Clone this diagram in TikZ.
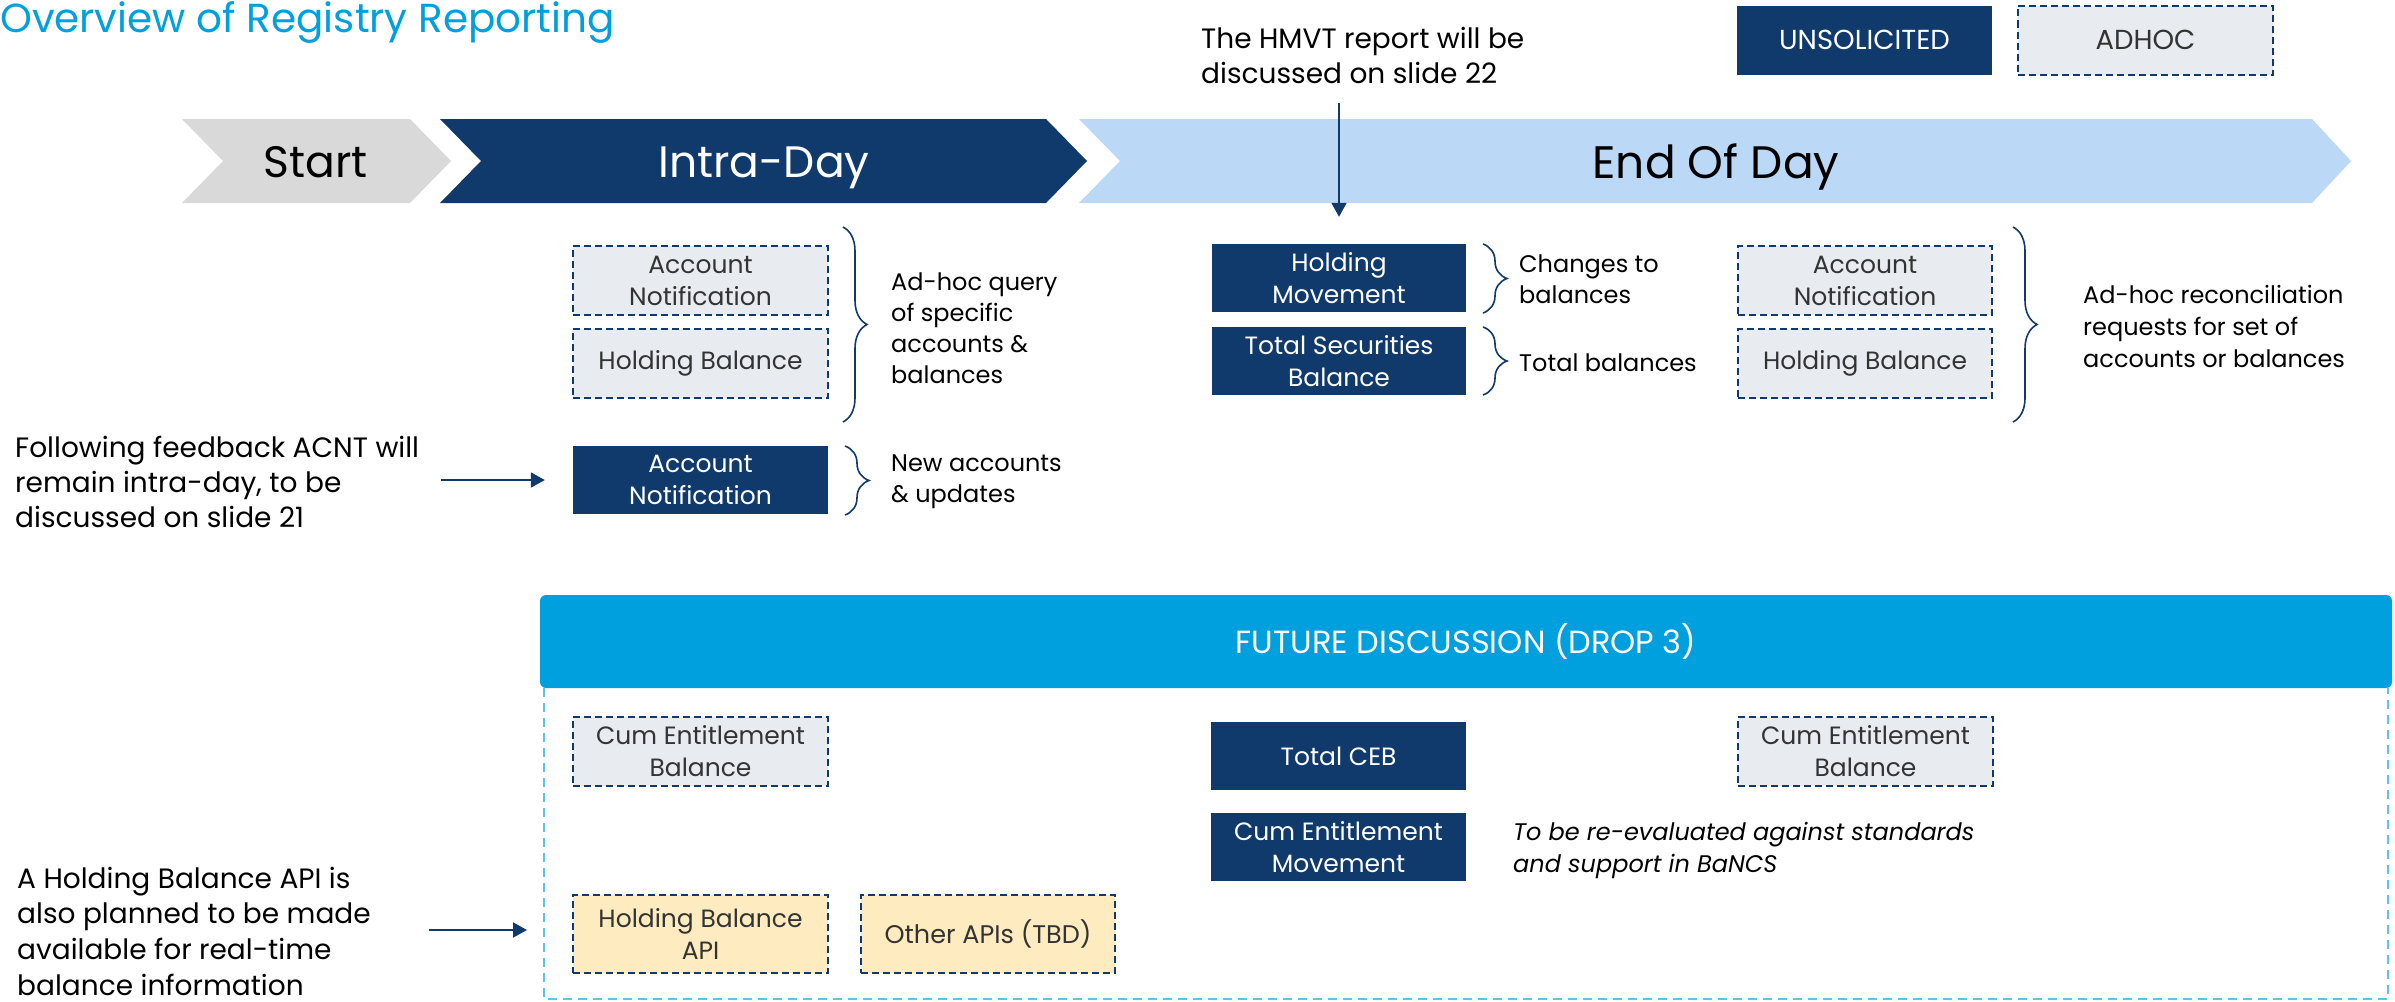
\documentclass[tikz,border=0pt]{standalone}
\usepackage{fontspec}
\setmainfont{Poppins}
\usetikzlibrary{arrows.meta,decorations.pathreplacing,calc}
\definecolor{navy}{RGB}{16,58,107}
\definecolor{startgray}{RGB}{217,217,217}
\definecolor{eodblue}{RGB}{187,216,246}
\definecolor{adhocfill}{RGB}{232,236,240}
\definecolor{hdrcyan}{RGB}{0,160,223}
\definecolor{dashcyan}{RGB}{90,196,236}
\definecolor{apiyellow}{RGB}{255,235,192}
\definecolor{boxgray}{RGB}{51,51,51}
\begin{document}
\begin{tikzpicture}[x=1pt,y=-1pt,
  boxbase/.style={minimum width=255pt, minimum height=69pt, inner sep=0pt, align=center, font=\fontsize{25}{32}\selectfont},
  unsol/.style={boxbase, fill=navy, text=white},
  adhocbox/.style={boxbase, fill=adhocfill, draw=navy, line width=2pt, dash pattern=on 7pt off 4pt, text=boxgray},
  apibox/.style={adhocbox, fill=apiyellow},
  note/.style={anchor=base west, inner sep=0pt, align=left, font=\fontsize{24}{31}\selectfont},
  bignote/.style={note, font=\fontsize{28}{35}\selectfont},
  chevtext/.style={anchor=base, inner sep=0pt, font=\fontsize{44}{50}\selectfont},
  arr/.style={draw=navy, line width=1.8pt, -{Triangle[length=14pt,width=15pt]}},
  bracestyle/.style={draw=navy, line width=1.6pt, decorate, decoration={brace, amplitude=24pt, aspect=0.5}}
]
\useasboundingbox[fill=white] (0,0) rectangle (2395,1001);

% title
\node[anchor=base west, inner sep=0pt, text=hdrcyan, font=\fontsize{40.5}{44}\selectfont] (title) at (0,32) {Overview of Registry Reporting};

% legend
\node[unsol, font=\fontsize{27.5}{32}\selectfont] (legU) at (1864.5,40) {UNSOLICITED};
\node[adhocbox, font=\fontsize{27.5}{32}\selectfont] (legA) at (2145.5,40) {ADHOC};

% chevrons
\fill[startgray] (182,119) -- (410,119) -- (451,161) -- (410,203) -- (182,203) -- (223,161) -- cycle;
\fill[navy] (440,119) -- (1046,119) -- (1087,161) -- (1046,203) -- (440,203) -- (481,161) -- cycle;
\fill[eodblue] (1079,119) -- (2312,119) -- (2351,161) -- (2312,203) -- (1079,203) -- (1120,161) -- cycle;
\node[chevtext, text=black] (tstart) at (316,177) {Start};
\node[chevtext, text=white] (tintra) at (764,177) {Intra-Day};
\node[chevtext, text=black, font=\fontsize{45.5}{50}\selectfont] (teod) at (1716,178) {End Of Day};

% HMVT note
\node[bignote] (hmvt) at (1201,83) {The HMVT report will be\\discussed on slide 22};

% intra-day boxes
\node[adhocbox] (iAN) at (700.5,280.5) {Account\\Notification};
\node[adhocbox] (iHB) at (700.5,363.5) {Holding Balance};
\node[unsol, minimum height=68pt] (iANu) at (700.5,480) {Account\\Notification};

\draw[bracestyle] (843,227) -- (843,422);
\draw[bracestyle] (845,446) -- (845,515);
\node[note] (nadhoc) at (891,383) {Ad-hoc query\\of specific\\accounts \&\\balances};
\node[note] (nnew) at (891,502) {New accounts\\\& updates};

\node[bignote] (nfb) at (15,527) {Following feedback ACNT will\\remain intra-day, to be\\discussed on slide 21};

% end of day boxes
\node[unsol, minimum height=68pt, minimum width=254pt] (HM) at (1339,278) {Holding\\Movement};
\node[unsol, minimum height=68pt, minimum width=254pt] (TSB) at (1339,361) {Total Securities\\Balance};
\draw[bracestyle] (1483,244) -- (1483,313);
\draw[bracestyle] (1483,327) -- (1483,395);
\node[note] (nchg) at (1519,303) {Changes to\\balances};
\node[note] (ntot) at (1519,371) {Total balances};

\node[adhocbox, minimum width=254pt] (eAN) at (1865,280.5) {Account\\Notification};
\node[adhocbox, minimum width=254pt] (eHB) at (1865,363.5) {Holding Balance};
\draw[bracestyle] (2013,227) -- (2013,422);
\node[note, font=\fontsize{24}{32}\selectfont] (nrec) at (2083,367) {Ad-hoc reconciliation\\requests for set of\\accounts or balances};

% future discussion
\draw[dashcyan, line width=1.6pt, dash pattern=on 9pt off 6pt] (544,688) -- (544,999) -- (2388,999) -- (2388,688);
\node[fill=hdrcyan, rounded corners=6pt, minimum width=1852pt, minimum height=93pt, inner sep=0pt, text=white, font=\fontsize{32}{36}\selectfont] (hdr) at (1466,641.5) {FUTURE DISCUSSION (DROP 3)};

\node[adhocbox] (ceb1) at (700.5,751.5) {Cum Entitlement\\Balance};
\node[unsol, minimum height=68pt] (tceb) at (1338.5,756) {Total CEB};
\node[unsol, minimum height=68pt] (cem) at (1338.5,847) {Cum Entitlement\\Movement};
\node[adhocbox] (ceb2) at (1865.5,751.5) {Cum Entitlement\\Balance};
\node[note, font=\itshape\fontsize{24}{32}\selectfont] (nre) at (1513,872) {To be re-evaluated against standards\\and support in BaNCS};

\node[apibox, minimum height=78pt] (hbapi) at (700.5,934) {Holding Balance\\API};
\node[apibox, minimum height=78pt, minimum width=254pt, font=\fontsize{25.5}{32}\selectfont] (oapi) at (988,934) {Other APIs (TBD)};

\node[bignote, font=\fontsize{28}{35.6}\selectfont] (nhb) at (17,995) {A Holding Balance API is\\also planned to be made\\available for real-time\\balance information};

% arrows
\draw[arr, shorten <=20pt, shorten >=27pt] (HM.north |- hmvt.south) -- (HM.north);
\draw[arr, shorten <=22pt, shorten >=28pt] (iANu.west -| nfb.east) -- (iANu.west);
\draw[arr, shorten <=58pt, shorten >=45pt] ($(hbapi.west -| nhb.east)+(0,-4)$) -- ($(hbapi.west)+(0,-4)$);
\end{tikzpicture}
\end{document}
